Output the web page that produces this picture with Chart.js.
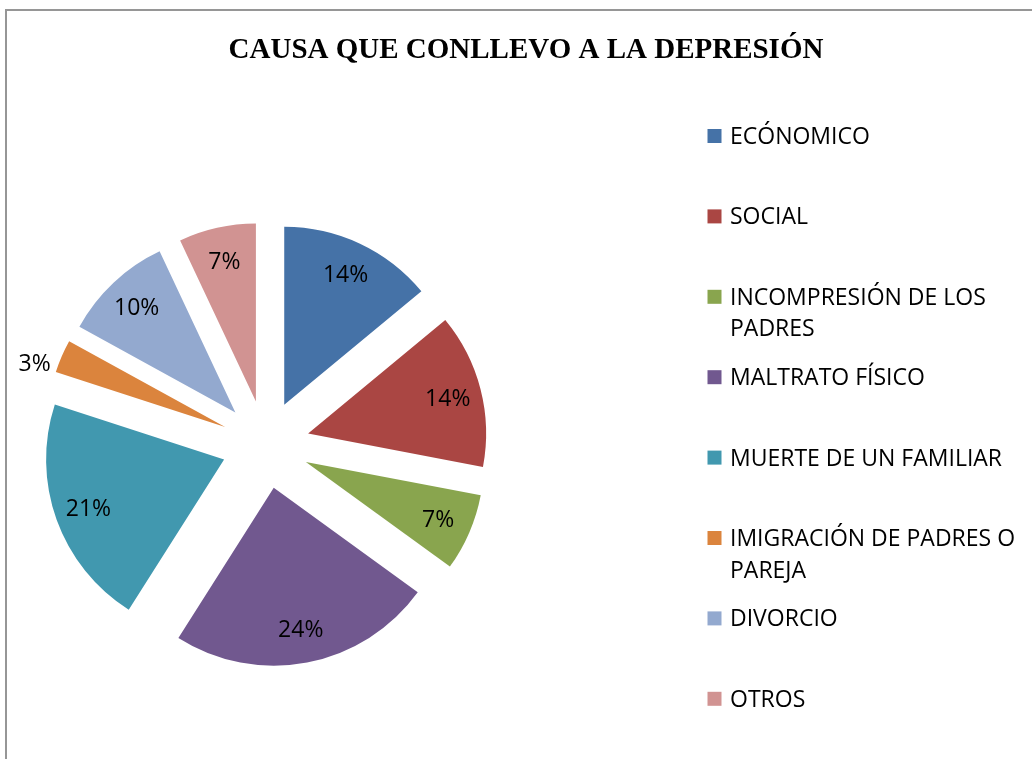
<!DOCTYPE html>
<html>
<head>
<meta charset="utf-8">
<script src="https://cdn.jsdelivr.net/npm/chart.js@4.4.1/dist/chart.umd.min.js"></script>
<style>
  html, body { margin: 0; padding: 0; background: #fff; }
  canvas { display: block; }
</style>
</head>
<body>
<canvas id="causaChart" width="1032" height="759"></canvas>
<script>
// data
const chartTitle = 'CAUSA QUE CONLLEVO A LA DEPRESIÓN';
const categories = [
  'ECÓNOMICO',
  'SOCIAL',
  ['INCOMPRESIÓN DE LOS', 'PADRES'],
  'MALTRATO FÍSICO',
  'MUERTE DE UN FAMILIAR',
  ['IMIGRACIÓN DE PADRES O', 'PAREJA'],
  'DIVORCIO',
  'OTROS'
];
const percentages = [14, 14, 7, 24, 21, 3, 10, 7];
const sliceColors = ['#4572A7', '#AA4643', '#89A54E', '#71588F', '#4198AF', '#DB843D', '#93A9CF', '#D19392'];

const EXPLODE = 44;          // every slice pulled out the same distance
const PIE_RADIUS = 178;
const TEXT_FONT = '23px "Open Sans"';

// chart.js 'offset' also enlarges thin slices, so shift arcs along their mid angle instead
const explodePlugin = {
  id: 'explode',
  afterDatasetsUpdate(chart) {
    chart.getDatasetMeta(0).data.forEach(arc => {
      const mid = (arc.startAngle + arc.endAngle) / 2;
      arc.x += Math.cos(mid) * EXPLODE;
      arc.y += Math.sin(mid) * EXPLODE;
    });
  }
};

const decorPlugin = {
  id: 'decor',
  afterDraw(chart) {
    const ctx = chart.ctx;
    ctx.save();

    // frame (only top and left edges are inside the picture)
    ctx.strokeStyle = '#969696';
    ctx.lineWidth = 2;
    ctx.beginPath();
    ctx.moveTo(6, chart.height);
    ctx.lineTo(6, 10);
    ctx.lineTo(chart.width, 10);
    ctx.stroke();

    // title
    ctx.fillStyle = '#000';
    ctx.font = 'bold 29px "Liberation Serif", "Times New Roman", serif';
    ctx.textAlign = 'center';
    ctx.textBaseline = 'alphabetic';
    ctx.fillText(chartTitle, 526, 57.5);

    // percentage labels, small slices get theirs outside
    ctx.font = TEXT_FONT;
    const meta = chart.getDatasetMeta(0);
    meta.data.forEach((arc, i) => {
      const mid = (arc.startAngle + arc.endAngle) / 2;
      const v = percentages[i];
      const txt = v + '%';
      if (v < 5) {
        const r = arc.outerRadius + 12;
        const x = arc.x + Math.cos(mid) * r;
        const y = arc.y + Math.sin(mid) * r;
        ctx.textAlign = Math.cos(mid) < 0 ? 'right' : 'left';
        ctx.fillText(txt, x, y + 19);
      } else {
        const r = arc.outerRadius * 0.81;
        ctx.textAlign = 'center';
        ctx.fillText(txt, arc.x + Math.cos(mid) * r, arc.y + Math.sin(mid) * r + 8);
      }
    });

    // legend
    const boxX = 707.5, textX = 730, firstY = 136, step = 80.4, lineH = 31.5;
    ctx.textAlign = 'left';
    categories.forEach((cat, i) => {
      const lines = Array.isArray(cat) ? cat : [cat];
      const cy = firstY + i * step;
      ctx.fillStyle = sliceColors[i];
      ctx.fillRect(boxX, cy - 7, 14, 14);
      ctx.fillStyle = '#000';
      lines.forEach((t, k) => ctx.fillText(t, textX, cy + 8 + k * lineH));
    });

    ctx.restore();
  }
};

new Chart(document.getElementById('causaChart'), {
  type: 'pie',
  data: {
    labels: categories,
    datasets: [{
      data: percentages,
      backgroundColor: sliceColors,
      borderWidth: 0,
      radius: PIE_RADIUS
    }]
  },
  options: {
    responsive: false,
    animation: false,
    events: [],
    layout: { padding: { left: 10, right: 511, top: 130, bottom: 0 } },
    plugins: {
      legend: { display: false },
      title: { display: false },
      tooltip: { enabled: false }
    }
  },
  plugins: [explodePlugin, decorPlugin]
});
</script>
</body>
</html>
